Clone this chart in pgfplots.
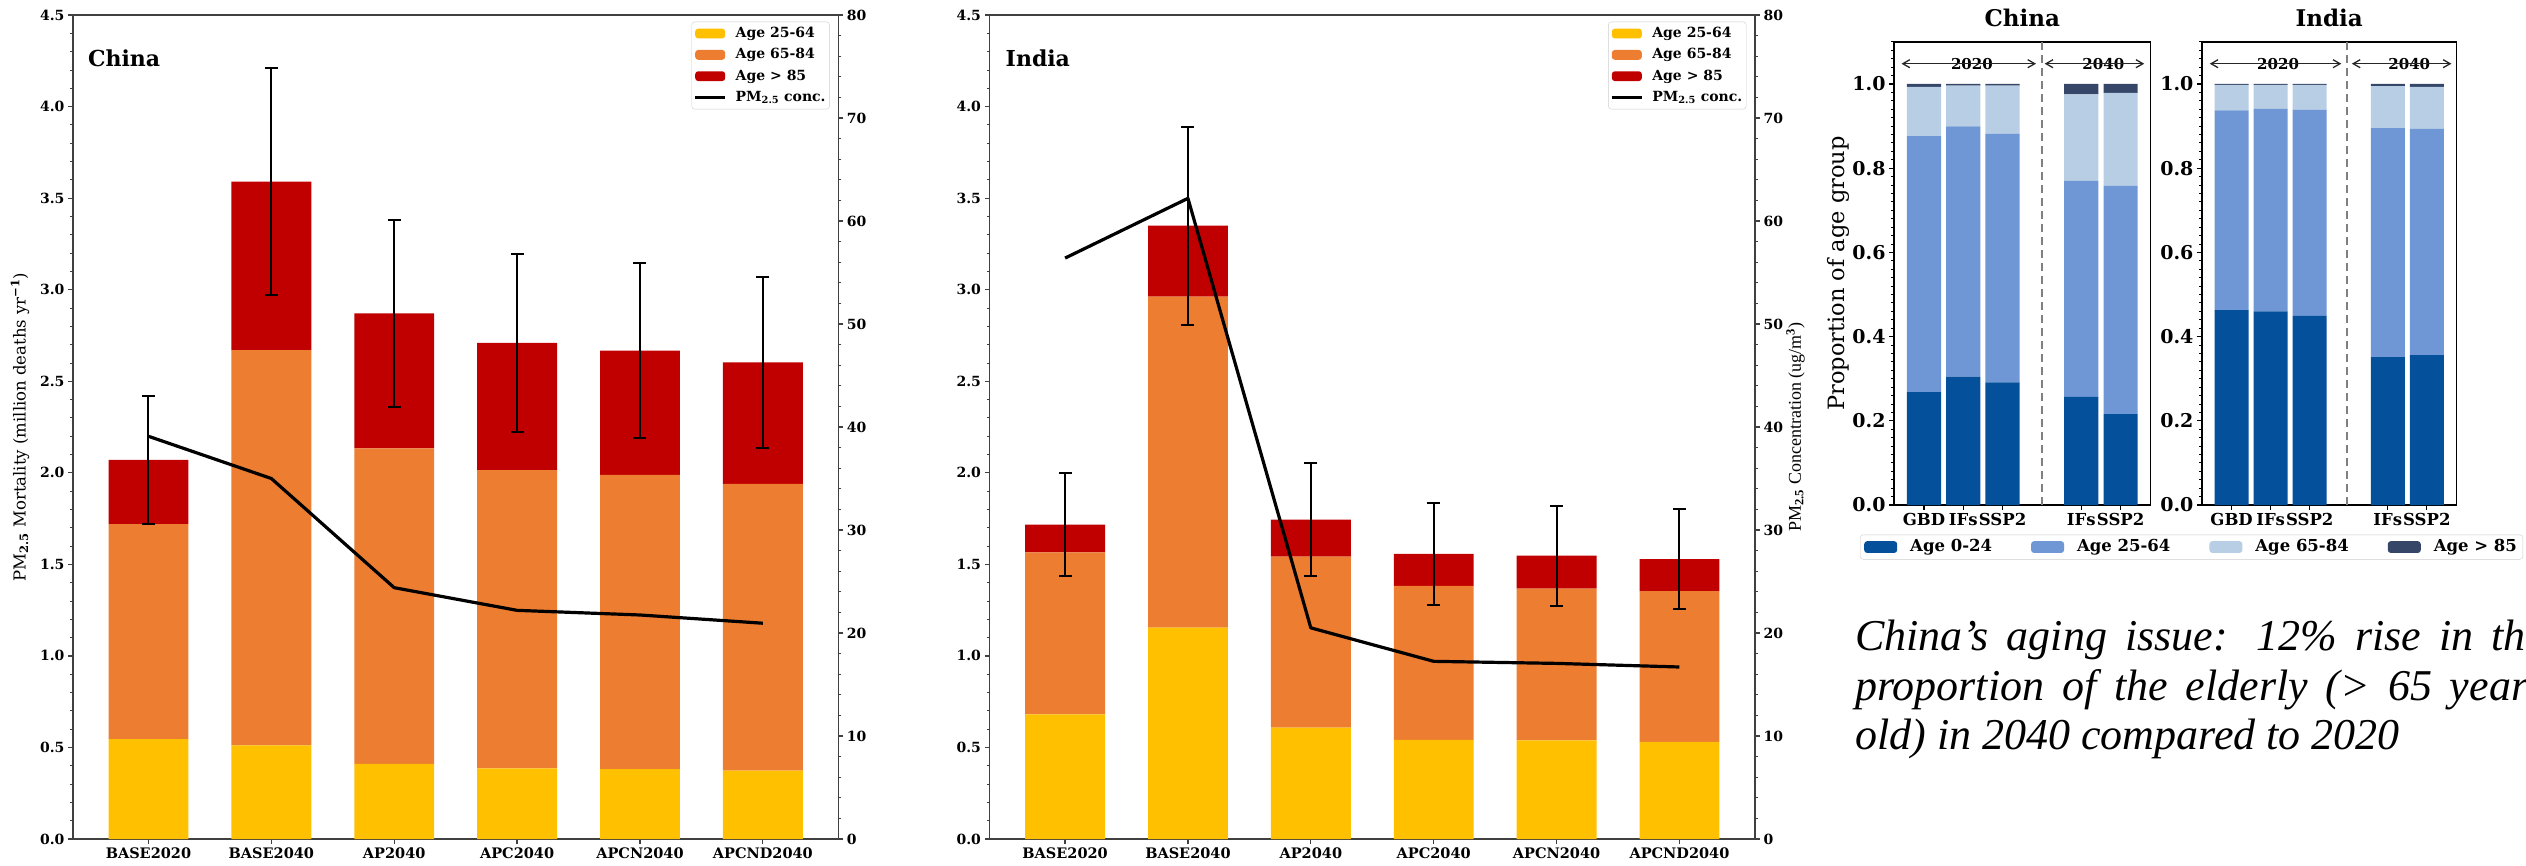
\documentclass[border=0pt]{standalone}
\usepackage{fontspec}
\setmainfont{DejaVu Serif}
\newfontfamily\tnr{Liberation Serif}
\usepackage{pgfplots}
\pgfplotsset{compat=1.18}
\usepackage{pgfplotstable}
\usetikzlibrary{arrows.meta}
\newcommand\fs[1]{\fontsize{#1}{#1}\selectfont}

\definecolor{ageA}{HTML}{FFC000}
\definecolor{ageB}{HTML}{ED7D31}
\definecolor{ageC}{HTML}{C00000}
\definecolor{popA}{HTML}{05509B}
\definecolor{popB}{HTML}{6F97D5}
\definecolor{popC}{HTML}{B7CEE4}
\definecolor{popD}{HTML}{354668}

% PM2.5 mortality by age group (million deaths/yr), error and PM2.5 concentration (ug/m3)
\pgfplotstableread{
x  y2564  y6584  y85    err    pm
0  0.545  1.175  0.350  0.350  39.10
1  0.512  2.158  0.920  0.620  35.00
2  0.410  1.724  0.736  0.510  24.40
3  0.386  1.629  0.694  0.485  22.20
4  0.382  1.606  0.679  0.478  21.75
5  0.373  1.566  0.664  0.466  20.95
}\mortChina
\pgfplotstableread{
x  y2564  y6584  y85    err    pm
0  0.681  0.885  0.151  0.280  56.40
1  1.154  1.808  0.388  0.541  62.20
2  0.608  0.934  0.202  0.308  20.50
3  0.542  0.841  0.174  0.279  17.25
4  0.539  0.828  0.180  0.273  17.05
5  0.530  0.824  0.175  0.273  16.70
}\mortIndia

% population shares by age group (GBD, IFs, SSP2 in 2020; IFs, SSP2 in 2040)
\pgfplotstableread{
x  a0024  a2564  a6584  a85
0  0.268  0.608  0.117  0.007
1  0.305  0.594  0.097  0.004
2  0.291  0.591  0.114  0.004
4  0.257  0.513  0.205  0.025
5  0.216  0.542  0.221  0.021
}\popChina
\pgfplotstableread{
x  a0024  a2564  a6584  a85
0  0.463  0.474  0.061  0.002
1  0.460  0.481  0.057  0.002
2  0.449  0.490  0.059  0.002
4  0.351  0.544  0.100  0.005
5  0.356  0.537  0.100  0.007
}\popIndia

\tikzset{
  yeartag/.style={font=\fs{15}\bfseries, fill=white, inner sep=1pt},
  yeararrow/.style={{Straight Barb[length=7pt,width=8pt]}-{Straight Barb[length=7pt,width=8pt]}, line width=1.3pt, black!85},
  sep/.style={black!50, line width=1.6pt, dash pattern=on 8pt off 5pt},
}

\pgfplotsset{
  sq/.style={legend image code/.code={\fill[##1,draw=none] (0pt,-4.9pt) rectangle (30pt,4.9pt);}},
  sqB/.style={legend image code/.code={\fill[##1,draw=none] (0pt,-5.9pt) rectangle (33pt,5.9pt);}},
  lineimg/.style={legend image code/.code={\draw[##1] (0pt,0pt) -- (30pt,0pt);}},
  mortframe/.style={
    scale only axis, width=765.5pt, height=824pt,
    xmin=-0.615, xmax=5.615, enlargelimits=false,
    anchor=south west,
  },
  mortbars/.style={
    mortframe, ymin=0, ymax=4.5,
    ybar stacked, bar width=0.65,
    axis line style={draw=black!75, line width=1.6pt},
    tick align=outside, xtick pos=left, ytick pos=left,
    xtick={0,...,5},
    xticklabels={BASE2020,BASE2040,AP2040,APC2040,APCN2040,APCND2040},
    ytick distance=0.5, minor y tick num=4,
    major tick length=5pt, minor tick length=3pt,
    tick style={draw=black!75, line width=1.2pt},
    minor tick style={line width=0.8pt},
    tick label style={font=\fs{14}\bfseries},
    xticklabel style={font=\fs{14.5}\bfseries},
    yticklabel style={/pgf/number format/.cd, fixed, fixed zerofill, precision=1, assume math mode=true},
    legend cell align=left,
    legend style={at={(1,1)}, anchor=north east, xshift=-8.6pt, yshift=-6.7pt,
      draw=black!20, rounded corners=3pt, fill=white, font=\fs{14}\bfseries,
      inner xsep=2pt, inner ysep=1pt, row sep=0pt,
      nodes={inner xsep=2pt, inner ysep=3.5pt, text height=11pt, text depth=3.3pt},
      /tikz/every odd column/.append style={column sep=7pt}},
  },
  morterr/.style={mortframe, ymin=0, ymax=4.5, hide axis},
  mortline/.style={
    mortframe, ymin=0, ymax=80,
    axis x line=none, axis y line*=right,
    axis line style={draw=black!75, line width=1.6pt},
    tick align=outside,
    ytick distance=10, minor y tick num=4,
    major tick length=5pt, minor tick length=3pt,
    tick style={draw=black!75, line width=1.2pt},
    minor tick style={line width=0.8pt},
    tick label style={font=\fs{14}\bfseries},
    yticklabel style={/pgf/number format/assume math mode=true},
  },
  errplot/.style={black, forget plot, only marks, mark=*, mark size=0pt,
    error bars/.cd, y dir=both, y explicit, error mark=none,
    error bar style={black, solid, line width=2pt}},
  capplot/.style={black, forget plot, only marks, mark=-, mark size=6.5pt,
    mark options={solid, line width=2pt}},
  popax/.style={
    scale only axis, width=256.5pt, height=463.2pt,
    xmin=-0.76, xmax=5.76, ymin=0, ymax=1.1, enlargelimits=false,
    anchor=south west,
    ybar stacked, bar width=0.87,
    axis line style={draw=black, line width=1.5pt},
    tick align=outside, xtick pos=left, ytick pos=left,
    xtick={0,1,2,4,5}, xticklabels={GBD,IFs,SSP2,IFs,SSP2},
    ytick distance=0.2, minor y tick num=9,
    major tick length=5pt, minor tick length=3pt,
    tick style={draw=black, line width=1.2pt},
    minor tick style={line width=0.8pt},
    yticklabel style={font=\fs{19}\bfseries, /pgf/number format/.cd, fixed, fixed zerofill, precision=1, assume math mode=true},
    xticklabel style={font=\fs{16.5}\bfseries},
    title style={font=\fs{23}\bfseries, at={(0.5,1)}, anchor=center, yshift=17.8pt},
  },
}

\begin{document}
\begin{tikzpicture}
\path[use as bounding box] (0pt,0pt) rectangle (2526pt,-865pt);
\clip (0pt,0pt) rectangle (2526pt,-865pt);

% ---------------- China: mortality by age group ----------------
\begin{axis}[mortbars, at={(72.9pt,-839pt)},
  ylabel={PM\textsubscript{\textbf{2.5}} Mortality (million deaths yr\textsuperscript{\textbf{−1}})},
  every axis y label/.style={at={([xshift=-52.9pt]axis description cs:0,0.5)}, rotate=90, anchor=center, font=\fs{16.5}}]
  \addplot[fill=ageA, draw=none, sq] table[x=x, y=y2564] {\mortChina};
  \addplot[fill=ageB, draw=none, sq] table[x=x, y=y6584] {\mortChina};
  \addplot[fill=ageC, draw=none, sq] table[x=x, y=y85] {\mortChina};
  \addlegendimage{black, line width=3pt, lineimg}
  \legend{Age 25-64, Age 65-84, Age > 85, PM\textsubscript{2.5} conc.}
  \node[anchor=west, inner sep=0pt, font=\fs{22}\bfseries] at (rel axis cs:0.0195,0.948) {China};
\end{axis}
\begin{axis}[morterr, at={(72.9pt,-839pt)}]
  \addplot[errplot] table[x=x, y expr=\thisrow{y2564}+\thisrow{y6584}+\thisrow{y85}, y error=err] {\mortChina};
  \addplot[capplot] table[x=x, y expr=\thisrow{y2564}+\thisrow{y6584}+\thisrow{y85}+\thisrow{err}] {\mortChina};
  \addplot[capplot] table[x=x, y expr=\thisrow{y2564}+\thisrow{y6584}+\thisrow{y85}-\thisrow{err}] {\mortChina};
\end{axis}
\begin{axis}[mortline, at={(72.9pt,-839pt)}]
  \addplot[black, line width=3.2pt, line join=round] table[x=x, y=pm] {\mortChina};
\end{axis}

% ---------------- India: mortality by age group ----------------
\begin{axis}[mortbars, at={(989.5pt,-839pt)}]
  \addplot[fill=ageA, draw=none, sq] table[x=x, y=y2564] {\mortIndia};
  \addplot[fill=ageB, draw=none, sq] table[x=x, y=y6584] {\mortIndia};
  \addplot[fill=ageC, draw=none, sq] table[x=x, y=y85] {\mortIndia};
  \addlegendimage{black, line width=3pt, lineimg}
  \legend{Age 25-64, Age 65-84, Age > 85, PM\textsubscript{2.5} conc.}
  \node[anchor=west, inner sep=0pt, font=\fs{22}\bfseries] at (rel axis cs:0.0209,0.948) {India};
\end{axis}
\begin{axis}[morterr, at={(989.5pt,-839pt)}]
  \addplot[errplot] table[x=x, y expr=\thisrow{y2564}+\thisrow{y6584}+\thisrow{y85}, y error=err] {\mortIndia};
  \addplot[capplot] table[x=x, y expr=\thisrow{y2564}+\thisrow{y6584}+\thisrow{y85}+\thisrow{err}] {\mortIndia};
  \addplot[capplot] table[x=x, y expr=\thisrow{y2564}+\thisrow{y6584}+\thisrow{y85}-\thisrow{err}] {\mortIndia};
\end{axis}
\begin{axis}[mortline, at={(989.5pt,-839pt)},
  ylabel={PM\textsubscript{\textbf{2.5}} Concentration (ug/m\textsuperscript{\textbf{3}})},
  every axis y label/.style={at={([xshift=40.5pt]axis description cs:1,0.5)}, rotate=90, anchor=center, font=\tnr\fs{18}}]
  \addplot[black, line width=3.2pt, line join=round] table[x=x, y=pm] {\mortIndia};
\end{axis}

% ---------------- population shares ----------------
\begin{axis}[popax, at={(1894pt,-505pt)}, title=China,
  ylabel={Proportion of age group},
  every axis y label/.style={at={([xshift=-56pt]axis description cs:0,0.5)}, rotate=90, anchor=center, font=\fs{22.5}},
  legend columns=4,
  legend style={at={(axis description cs:-0.1326,-0.0639)}, anchor=north west,
    draw=black!20, rounded corners=3pt, fill=white, font=\fs{16.5}\bfseries,
    inner xsep=4pt, inner ysep=1.5pt,
    nodes={inner xsep=2pt, inner ysep=3pt, text height=12pt, text depth=3.5pt},
    /tikz/every odd column/.append style={column sep=11pt},
    /tikz/every even column/.append style={column sep=37pt}}]
  \addplot[fill=popA, draw=none, sqB] table[x=x, y=a0024] {\popChina};
  \addplot[fill=popB, draw=none, sqB] table[x=x, y=a2564] {\popChina};
  \addplot[fill=popC, draw=none, sqB] table[x=x, y=a6584] {\popChina};
  \addplot[fill=popD, draw=none, sqB] table[x=x, y=a85] {\popChina};
  \legend{Age 0-24, Age 25-64, Age 65-84, Age > 85}
  \draw[sep] (axis cs:3,0) -- (axis cs:3,1.1);
  \draw[yeararrow] (axis cs:-0.57,1.048) -- (axis cs:2.85,1.048);
  \draw[yeararrow] (axis cs:3.07,1.048) -- (axis cs:5.6,1.048);
  \node[yeartag] at (axis cs:1.22,1.048) {2020};
  \node[yeartag] at (axis cs:4.56,1.048) {2040};
\end{axis}
\begin{axis}[popax, at={(2201.9pt,-505pt)}, width=254.6pt, title=India]
  \addplot[fill=popA, draw=none] table[x=x, y=a0024] {\popIndia};
  \addplot[fill=popB, draw=none] table[x=x, y=a2564] {\popIndia};
  \addplot[fill=popC, draw=none] table[x=x, y=a6584] {\popIndia};
  \addplot[fill=popD, draw=none] table[x=x, y=a85] {\popIndia};
  \draw[sep] (axis cs:2.96,0) -- (axis cs:2.96,1.1);
  \draw[yeararrow] (axis cs:-0.56,1.048) -- (axis cs:2.81,1.048);
  \draw[yeararrow] (axis cs:3.08,1.048) -- (axis cs:5.63,1.048);
  \node[yeartag] at (axis cs:1.19,1.048) {2020};
  \node[yeartag] at (axis cs:4.55,1.048) {2040};
\end{axis}

% ---------------- note ----------------
\node[anchor=base west, inner sep=0pt, font=\tnr\itshape\fs{44}] at (1855pt,-650pt)
  {\makebox[690pt][s]{China’s aging issue: 12\% rise in the}};
\node[anchor=base west, inner sep=0pt, font=\tnr\itshape\fs{44}] at (1855pt,-700pt)
  {\makebox[690pt][s]{proportion of the elderly (> 65 years}};
\node[anchor=base west, inner sep=0pt, font=\tnr\itshape\fs{44}] at (1855pt,-749pt)
  {old) in 2040 compared to 2020};
\end{tikzpicture}
\end{document}
